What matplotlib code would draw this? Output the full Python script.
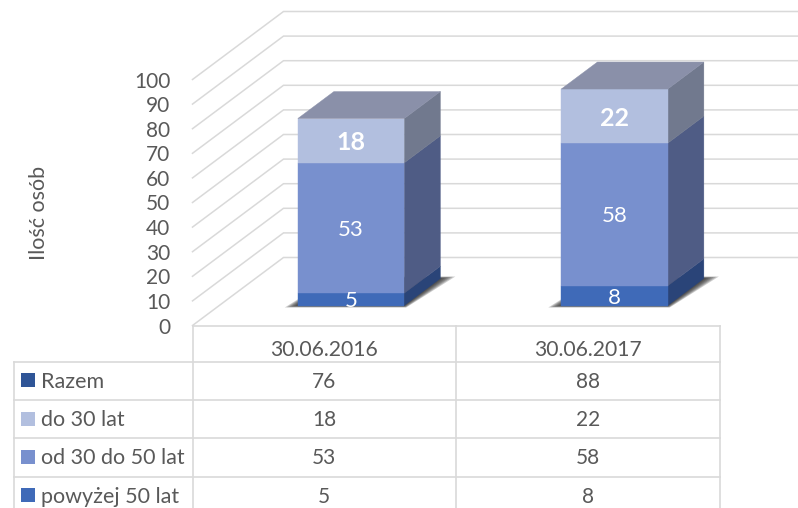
import matplotlib
matplotlib.use("Agg")
import matplotlib.pyplot as plt
from matplotlib.patches import Polygon, Rectangle

plt.rcParams['font.family'] = ['Lato', 'DejaVu Sans']

categories = ['30.06.2016', '30.06.2017']
series_names = ['powyżej 50 lat', 'od 30 do 50 lat', 'do 30 lat']
over_50 = [5, 8]
from_30_to_50 = [53, 58]
under_30 = [18, 22]
total = [76, 88]
y_ticks = list(range(0, 101, 10))
table_names = ['Razem', 'do 30 lat', 'od 30 do 50 lat', 'powyżej 50 lat']
table_values = [total, under_30, from_30_to_50, over_50]
key_colors = ['#2F5597', '#B2BFDF', '#7890CE', '#3F6AB8']

W, H = 798, 508
fig = plt.figure(figsize=(W / 100, H / 100), dpi=100, facecolor='white')
L, R, T, B = 192.5, 719.5, 79.5, 325.5
ax = fig.add_axes([L / W, 1 - B / H, (R - L) / W, (B - T) / H])
ax.set_xlim(0, 2)
ax.set_ylim(0, 100)
for s in ax.spines.values():
    s.set_visible(False)

px_x = (R - L) / 2      # pixels per category
px_y = (B - T) / 100    # pixels per value unit
DX = 91 / px_x          # full floor depth, in category units
DY = 68 / px_y          # full floor depth, in value units


def p(x, v, d=0.0):
    """Oblique projection: category x, value v, depth d (0 front, 1 back)."""
    return (x + d * DX, v + d * DY)


def pyv(py):
    return (B - py) / px_y


def pxx(px):
    return (px - L) / px_x


GRID = '#D9D9D9'
TXT = '#595959'

# back wall and side wall grid
for v in y_ticks:
    xs, ys = zip(p(0, v, 0), p(0, v, 1), p(2.1, v, 1))
    ax.plot(xs, ys, color=GRID, lw=1.1, clip_on=False, zorder=1, solid_joinstyle='miter')

# ticks
ax.set_yticks(y_ticks)
ax.set_xticks([0.5, 1.5])
ax.set_xticklabels(categories)
ax.tick_params(axis='y', length=0, pad=16, labelsize=15, labelcolor=TXT)
ax.tick_params(axis='x', length=0, pad=16.3, labelsize=15.2, labelcolor=TXT)
for t in ax.get_xticklabels():
    t.set_va('center_baseline')
for t in ax.get_yticklabels():
    t.set_va('center_baseline')
ax.set_ylabel('Ilość osób', fontsize=15.5, color=TXT)
ax.yaxis.set_label_coords((49 - L) / (R - L), (B - 213) / (B - T))

# bars
D0, D1 = 0.294, 0.691
BW = 0.404
seg_faces = [
    ('#3F6AB8', '#2A4478'),
    ('#7890CE', '#4F5C85'),
    ('#B2BFDF', '#71798E'),
]
TOP = '#8A90A9'
stacks = [over_50, from_30_to_50, under_30]
bold = [False, False, True]

for i in range(len(categories)):
    c = i + 0.5
    x0, x1 = c - BW / 2, c + BW / 2
    # soft floor shadow
    for k in range(6):
        e = 1 - k / 6
        sl = 13 * e / px_x
        sr = 15 * e / px_x
        sb = 2 * e / px_y
        sh = [p(x0 - sl, -sb, D0), p(x1 + 2 * e / px_x, -sb, D0),
              p(x1 + sr, sb, D1), p(x0, sb, D1)]
        ax.add_patch(Polygon(sh, closed=True, fc='#202020', ec='none', alpha=0.22,
                             clip_on=False, zorder=2))
    base = 0
    for j, (vals, (front, side)) in enumerate(zip(stacks, seg_faces)):
        v = vals[i]
        top = base + v
        f = [p(x0, base, D0), p(x1, base, D0), p(x1, top, D0), p(x0, top, D0)]
        s = [p(x1, base, D0), p(x1, base, D1), p(x1, top, D1), p(x1, top, D0)]
        ax.add_patch(Polygon(s, closed=True, fc=side, ec=side, lw=0.3, clip_on=False, zorder=3))
        ax.add_patch(Polygon(f, closed=True, fc=front, ec=front, lw=0.3, clip_on=False, zorder=4))
        cx, cy = p(c, base + v / 2, D0)
        ax.text(cx, cy, str(v), color='white', ha='center', va='center_baseline',
                fontsize=18 if bold[j] else 16,
                fontweight='bold' if bold[j] else 'normal', zorder=6, clip_on=False)
        base = top
    t = [p(x0, base, D0), p(x1, base, D0), p(x1, base, D1), p(x0, base, D1)]
    ax.add_patch(Polygon(t, closed=True, fc=TOP, ec=TOP, lw=0.3, clip_on=False, zorder=4))

# data table
row_lines = [362, 400, 438, 476.7]
row_centers = [380, 418.5, 456.5, 495]
TLW = 1.2
ax.plot([0, 2], [0, 0], color=GRID, lw=TLW, clip_on=False, zorder=1)
for py in row_lines:
    ax.plot([pxx(13.5), 2], [pyv(py)] * 2, color=GRID, lw=TLW, clip_on=False, zorder=1)
for cx in [0, 1, 2]:
    ax.plot([cx, cx], [0, pyv(H + 2)], color=GRID, lw=TLW, clip_on=False, zorder=1)
ax.plot([pxx(13.5)] * 2, [pyv(362), pyv(H + 2)], color=GRID, lw=TLW, clip_on=False, zorder=1)

for name, vals, col, py in zip(table_names, table_values, key_colors, row_centers):
    ax.add_patch(Rectangle((pxx(21), pyv(py + 7)), 14 / px_x, 14 / px_y, fc=col, ec='none',
                           clip_on=False, zorder=3))
    ax.text(pxx(41), pyv(py), name, color=TXT, fontsize=15.5, ha='left', va='center_baseline',
            clip_on=False)
    for i, v in enumerate(vals):
        ax.text(i + 0.5, pyv(py), str(v), color=TXT, fontsize=15, ha='center',
                va='center_baseline', clip_on=False)

fig.savefig('out.png', dpi=100)
